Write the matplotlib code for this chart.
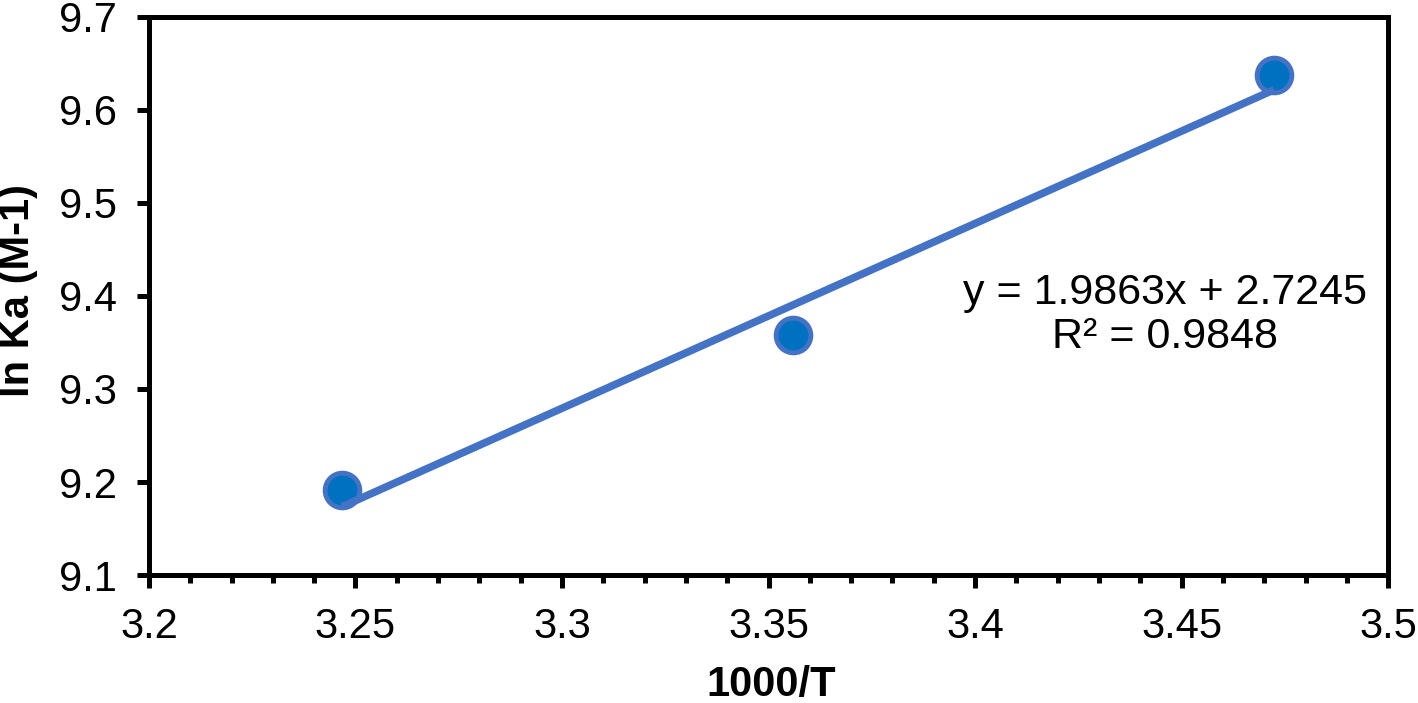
import matplotlib

matplotlib.use("Agg")
import matplotlib.pyplot as plt
import numpy as np
from matplotlib.ticker import MultipleLocator

# data
inv_temp = [3.2467, 3.356, 3.4724]
ln_ka = [9.191, 9.358, 9.637]
slope, intercept = 1.9863, 2.7245
r_squared = 0.9848

plt.rcParams["font.family"] = ["Liberation Sans", "DejaVu Sans"]

fig = plt.figure(figsize=(14.18, 7.03), dpi=100)
ax = fig.add_axes([0.105, 0.182, 0.874, 0.794])

ax.plot(inv_temp, ln_ka, "o", ms=25, mfc="#0070C0", mec="#4472C4", mew=3.5, zorder=2)

xs = np.array([inv_temp[0], inv_temp[-1]])
ax.plot(xs, slope * xs + intercept, color="#4472C4", lw=5.5, solid_capstyle="butt", zorder=3)

ax.text(3.446, 9.403, f"y = {slope}x + {intercept}", fontsize=31, ha="center", va="center")
ax.text(3.446, 9.356, f"R² = {r_squared}", fontsize=31, ha="center", va="center")

ax.set_xlim(3.2, 3.5)
ax.set_ylim(9.1, 9.7)
ax.xaxis.set_minor_locator(MultipleLocator(0.01))
ax.set_xticks([3.2, 3.25, 3.3, 3.35, 3.4, 3.45, 3.5], ["3.2", "3.25", "3.3", "3.35", "3.4", "3.45", "3.5"])
ax.set_yticks([9.1, 9.2, 9.3, 9.4, 9.5, 9.6, 9.7], ["9.1", "9.2", "9.3", "9.4", "9.5", "9.6", "9.7"])

for s in ax.spines.values():
    s.set_linewidth(3.6)
ax.tick_params(which="major", direction="out", length=9, width=3.6, labelsize=30)
ax.tick_params(axis="x", which="minor", direction="out", length=6, width=3.6)
ax.tick_params(axis="x", which="major", pad=14)
ax.tick_params(axis="y", which="major", pad=14)

ax.set_xlabel("1000/T", fontsize=30, fontweight="bold", va="center")
ax.set_ylabel("ln Ka (M-1)", fontsize=30, fontweight="bold", va="center")
ax.xaxis.set_label_coords(0.502, -0.197)
ax.yaxis.set_label_coords(-0.106, 0.51)

fig.savefig("out.png", dpi=100)
